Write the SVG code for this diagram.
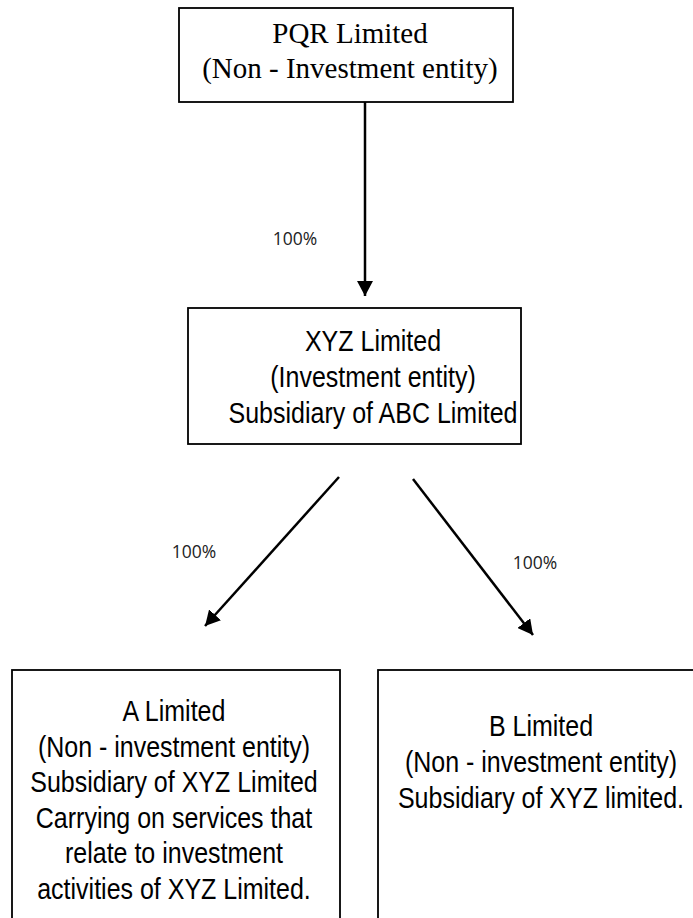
<svg xmlns="http://www.w3.org/2000/svg" width="693" height="918" viewBox="0 0 693 918">
<style>
.box{fill:#fff;stroke:#000;stroke-width:1.8}
.serif{font-family:"Liberation Serif","Times New Roman",serif;font-size:29px;fill:#000;text-anchor:middle}
.sans{font-family:"Liberation Sans",Arial,sans-serif;font-size:25px;fill:#000;text-anchor:middle}
.pct{font-family:"Open Sans","Noto Sans",sans-serif;font-size:17.5px;fill:#222;text-anchor:middle}
.conn{stroke:#000;stroke-width:2.5;fill:none;marker-end:url(#ah)}
</style>
<defs>
<marker id="ah" markerUnits="userSpaceOnUse" markerWidth="16" markerHeight="16" refX="15" refY="8" orient="auto">
<path d="M0,0 L15,8 L0,16 z" fill="#000"/>
</marker>
</defs>
<rect width="693" height="918" fill="#fff"/>
<g id="connectors">
<line class="conn" x1="365" y1="102" x2="365" y2="296"/>
<line class="conn" x1="339" y1="477" x2="205" y2="626"/>
<line class="conn" x1="413" y1="479" x2="533" y2="635"/>
<text class="pct" x="295" y="245">100%</text>
<text class="pct" x="194" y="558">100%</text>
<text class="pct" x="535" y="569">100%</text>
</g>
<g id="pqr">
<rect class="box" x="179" y="8" width="334" height="94"/>
<text class="serif" x="350" y="43">PQR Limited</text>
<text class="serif" x="350" y="78">(Non - Investment entity)</text>
</g>
<g id="xyz">
<rect class="box" x="188" y="308" width="333" height="136"/>
<text class="sans" transform="translate(373,351) scale(1,1.16)">XYZ Limited</text>
<text class="sans" transform="translate(373,387) scale(1,1.16)">(Investment entity)</text>
<text class="sans" transform="translate(373,423) scale(1,1.16)">Subsidiary of ABC Limited</text>
</g>
<g id="a">
<rect class="box" x="12" y="670" width="328" height="270"/>
<text class="sans" transform="translate(174,721) scale(1,1.16)">A Limited</text>
<text class="sans" transform="translate(174,756.5) scale(1,1.16)">(Non - investment entity)</text>
<text class="sans" transform="translate(174,792) scale(1,1.16)">Subsidiary of XYZ Limited</text>
<text class="sans" transform="translate(174,827.5) scale(1,1.16)">Carrying on services that</text>
<text class="sans" transform="translate(174,863) scale(1,1.16)">relate to investment</text>
<text class="sans" transform="translate(174,898.5) scale(1,1.16)">activities of XYZ Limited.</text>
</g>
<g id="b">
<rect class="box" x="378" y="670" width="316" height="270"/>
<text class="sans" transform="translate(541,736) scale(1,1.16)">B Limited</text>
<text class="sans" transform="translate(541,772) scale(1,1.16)">(Non - investment entity)</text>
<text class="sans" transform="translate(541,808) scale(1,1.16)">Subsidiary of XYZ limited.</text>
</g>
</svg>
